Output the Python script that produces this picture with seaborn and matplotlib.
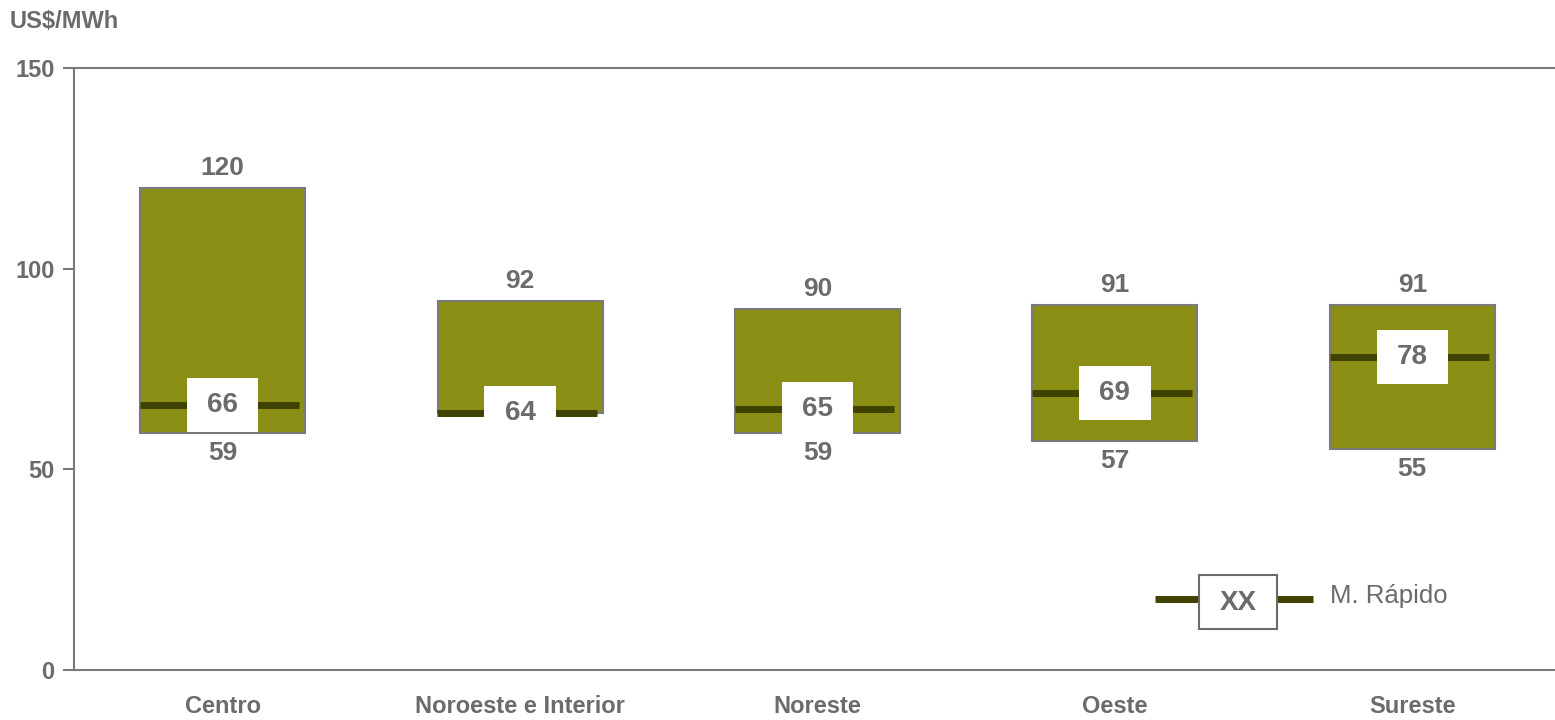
import matplotlib
matplotlib.use("Agg")
import matplotlib.pyplot as plt
from matplotlib.patches import Rectangle
from matplotlib.lines import Line2D
import seaborn as sns
import pandas as pd

# Price ranges per region (US$/MWh)
regions = ["Centro", "Noroeste e Interior", "Noreste", "Oeste", "Sureste"]
low = [59, 64, 59, 57, 55]
high = [120, 92, 90, 91, 91]
rapido = [66, 64, 65, 69, 78]
yticks = [0, 50, 100, 150]

GRAY = "#6b6b6b"
OLIVE = "#8b8e14"
DARK = "#3f4200"

sns.set_theme(style="white")
plt.rcParams["font.family"] = ["Liberation Sans", "DejaVu Sans"]

df = pd.DataFrame({"region": regions, "low": low, "high": high,
                   "span": [h - l for h, l in zip(high, low)]})

fig = plt.figure(figsize=(15.55, 7.2), dpi=100)
ax = fig.add_axes([74 / 1555, 50 / 720, 1 - 74 / 1555, 602 / 720])

sns.barplot(data=df, x="region", y="span", bottom=df["low"], order=regions,
            color=OLIVE, saturation=1, width=0.555, edgecolor="#7a7a7a",
            linewidth=1.5, ax=ax)

for i, (lo, hi, r) in enumerate(zip(low, high, rapido)):
    ax.hlines(r, i - 0.278, i + 0.258, color=DARK, linewidth=5, zorder=3)
    ax.add_patch(Rectangle((i - 0.12, r - 6.75), 0.24, 13.5,
                           facecolor="white", edgecolor="none", zorder=4))
    ax.text(i, r, f"{r}", ha="center", va="center", fontsize=20,
            fontweight="bold", color=GRAY, zorder=5)
    ax.text(i, hi + 5, f"{hi}", ha="center", va="center", fontsize=19,
            fontweight="bold", color=GRAY)
    if i != 1:
        ax.text(i, lo - 5, f"{lo}", ha="center", va="center", fontsize=19,
                fontweight="bold", color=GRAY)

ax.set_xlim(-0.5, 4.48)
ax.set_ylim(0, 150)
ax.set_yticks(yticks)
ax.set_yticklabels([str(t) for t in yticks])
ax.set_xlabel("")
ax.set_ylabel("")

for side in ["left", "bottom", "top"]:
    ax.spines[side].set_color("#7a7a7a")
    ax.spines[side].set_linewidth(1.5)
ax.spines["right"].set_visible(False)

ax.tick_params(axis="y", which="both", left=True, length=8, width=1.5,
               color="#7a7a7a", pad=6, labelsize=17, labelcolor=GRAY)
ax.tick_params(axis="x", bottom=False, length=0, pad=18, labelsize=17,
               labelcolor=GRAY)
for lab in ax.get_yticklabels() + ax.get_xticklabels():
    lab.set_fontweight("bold")

fig.text(10 / 1555, 1 - 22 / 720, "US$/MWh", ha="left", va="center",
         fontsize=17, fontweight="bold", color=GRAY)

# Legend: line with value box
ly = 1 - 599 / 720
fig.add_artist(Line2D([1155 / 1555, 1313 / 1555], [ly, ly],
                      transform=fig.transFigure, color=DARK, linewidth=5,
                      solid_capstyle="butt", zorder=2))
fig.add_artist(Rectangle((1199 / 1555, 1 - 629 / 720), 78 / 1555, 54 / 720,
                         transform=fig.transFigure, facecolor="white",
                         edgecolor="#6b6b6b", linewidth=1.5, zorder=3))
txt = fig.text(1238 / 1555, 1 - 603 / 720, "XX", ha="center", va="center",
               fontsize=20, fontweight="bold", color=GRAY)
txt.set_zorder(4)
fig.text(1330 / 1555, 1 - 596 / 720, "M. Rápido", ha="left", va="center",
         fontsize=18.5, color=GRAY)

fig.savefig("out.png", dpi=100)
